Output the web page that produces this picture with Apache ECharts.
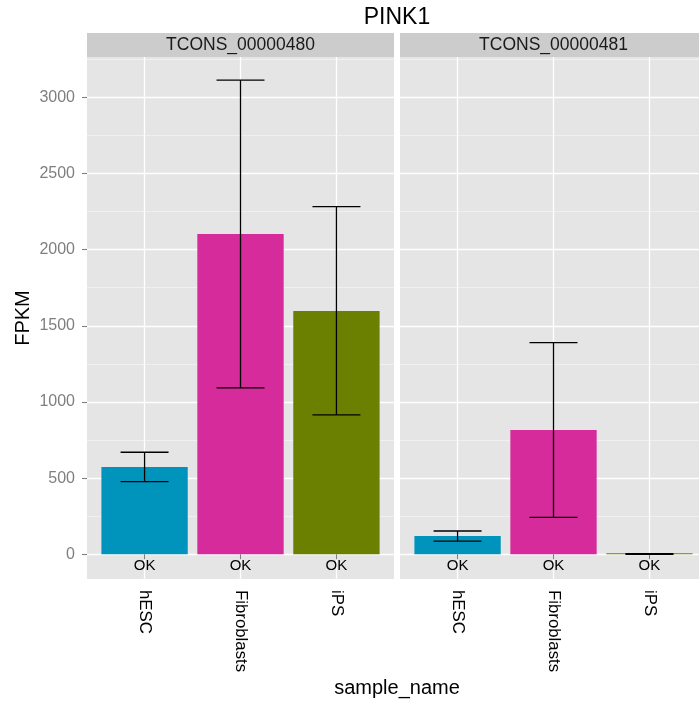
<!DOCTYPE html>
<html><head><meta charset="utf-8">
<script src="https://cdn.jsdelivr.net/npm/echarts@6/dist/echarts.min.js"></script>
<style>html,body{margin:0;padding:0;background:#fff}#c{width:699px;height:707px}</style>
</head><body><div id="c"></div>
<script>
const chartTitle = 'PINK1';
const panels = ['TCONS_00000480', 'TCONS_00000481'];
const categories = ['hESC', 'Fibroblasts', 'iPS'];
const fpkm480 = [573, 2103, 1597];
const low480 = [477, 1092, 915];
const high480 = [670, 3112, 2282];
const fpkm481 = [120, 816, 2];
const low481 = [86, 243, 0];
const high481 = [153, 1389, 5];
const statusLabels = ['OK', 'OK', 'OK'];
const yMajorTicks = [0, 500, 1000, 1500, 2000, 2500, 3000];
const yMinorTicks = [250, 750, 1250, 1750, 2250, 2750, 3250];
const xTicks = [1, 2, 3];

const colors = ['#0094BD', '#D62B9A', '#6B7F00'];
const FONT = '"Liberation Sans", Arial, Helvetica, sans-serif';
const Y_MIN = -162, Y_MAX = 3264;
const gridTop = 57, gridH = 522, gridW = 307;
const gridLefts = [87, 400];

const chart = echarts.init(document.getElementById('c'), null, {renderer: 'canvas'});

function makeRender() {
  return function (params, api) {
    const i = params.dataIndex;
    const x = api.value(0), v = api.value(1), l = api.value(2), h = api.value(3);
    const a = api.coord([x - 0.45, v]);
    const b = api.coord([x + 0.45, 0]);
    const top = api.coord([x, h]);
    const bot = api.coord([x, l]);
    const tl = api.coord([x - 0.25, h]), tr = api.coord([x + 0.25, h]);
    const bl = api.coord([x - 0.25, l]), br = api.coord([x + 0.25, l]);
    const zero = api.coord([x, 0]);
    const es = {stroke: '#000', lineWidth: 1.3};
    return {
      type: 'group',
      children: [
        {type: 'rect', shape: {x: a[0], y: Math.min(a[1], b[1] - 1), width: b[0] - a[0], height: Math.max(b[1] - a[1], 1)}, style: {fill: colors[i]}},
        {type: 'line', shape: {x1: top[0], y1: top[1], x2: bot[0], y2: bot[1]}, style: es},
        {type: 'line', shape: {x1: tl[0], y1: tl[1], x2: tr[0], y2: tr[1]}, style: es},
        {type: 'line', shape: {x1: bl[0], y1: bl[1], x2: br[0], y2: br[1]}, style: es},
        {type: 'text', x: zero[0], y: zero[1] + 12, style: {text: statusLabels[i], fill: '#000', font: '15px ' + FONT, textAlign: 'center', textVerticalAlign: 'middle'}}
      ]
    };
  };
}

function rows(vals, lo, hi) {
  return categories.map((c, i) => [i + 1, vals[i], lo[i], hi[i]]);
}

const grids = gridLefts.map(l => ({left: l, top: gridTop, width: gridW, height: gridH, show: true, backgroundColor: '#E5E5E5', borderWidth: 0, containLabel: false, outerBoundsMode: 'none'}));

const xAxes = [0, 1].map(g => ({
  type: 'value', gridIndex: g, min: 0.4, max: 3.6, position: 'bottom',
  axisLine: {show: false},
  axisTick: {show: true, customValues: xTicks, length: 5, lineStyle: {color: '#7F7F7F', width: 1.1}},
  axisLabel: {show: true, customValues: xTicks, rotate: -90, margin: 11, color: '#000', fontSize: 16.8, fontFamily: FONT,
    formatter: v => categories[Math.round(v) - 1] || ''},
  splitLine: {show: true, lineStyle: {color: '#FFFFFF', width: 1.3}}
}));

const yMain = [0, 1].map(g => ({
  type: 'value', gridIndex: g, min: Y_MIN, max: Y_MAX, position: 'left',
  axisLine: {show: false},
  axisTick: {show: g === 0, customValues: yMajorTicks, length: 5, lineStyle: {color: '#7F7F7F', width: 1.1}},
  axisLabel: {show: g === 0, customValues: yMajorTicks, margin: 12, color: '#7F7F7F', fontSize: 16, fontFamily: FONT, formatter: v => String(v)},
  splitLine: {show: true, lineStyle: {color: '#FFFFFF', width: 1.3}}
}));
const yMinor = [0, 1].map(g => ({
  type: 'value', gridIndex: g, min: Y_MIN, max: Y_MAX, position: 'left',
  axisLine: {show: false},
  axisTick: {show: false, customValues: yMinorTicks},
  axisLabel: {show: false, customValues: yMinorTicks},
  splitLine: {show: true, lineStyle: {color: '#F2F2F2', width: 0.8}}
}));

const graphics = [];
graphics.push({type: 'text', x: 397, y: 18, style: {text: chartTitle, font: '23px ' + FONT, fill: '#000', textAlign: 'center', textVerticalAlign: 'middle'}});
gridLefts.forEach((l, k) => {
  graphics.push({type: 'rect', shape: {x: l, y: 33, width: gridW, height: 24}, style: {fill: '#CCCCCC'}});
  graphics.push({type: 'text', x: l + gridW / 2, y: 45, style: {text: panels[k], font: '17.5px ' + FONT, fill: '#1A1A1A', textAlign: 'center', textVerticalAlign: 'middle'}});
});
graphics.push({type: 'text', x: 397, y: 688, style: {text: 'sample_name', font: '20px ' + FONT, fill: '#000', textAlign: 'center', textVerticalAlign: 'middle'}});
graphics.push({type: 'text', x: 23, y: 318, rotation: Math.PI / 2, style: {text: 'FPKM', font: '20px ' + FONT, fill: '#000', textAlign: 'center', textVerticalAlign: 'middle'}});

chart.setOption({
  animation: false,
  backgroundColor: '#FFFFFF',
  grid: grids,
  xAxis: xAxes,
  yAxis: [yMinor[0], yMinor[1], yMain[0], yMain[1]],
  graphic: graphics,
  series: [
    {type: 'custom', xAxisIndex: 0, yAxisIndex: 2, renderItem: makeRender(), encode: {x: 0, y: [1, 2, 3]}, data: rows(fpkm480, low480, high480), z: 5},
    {type: 'custom', xAxisIndex: 1, yAxisIndex: 3, renderItem: makeRender(), encode: {x: 0, y: [1, 2, 3]}, data: rows(fpkm481, low481, high481), z: 5}
  ]
});
</script>
</body></html>
